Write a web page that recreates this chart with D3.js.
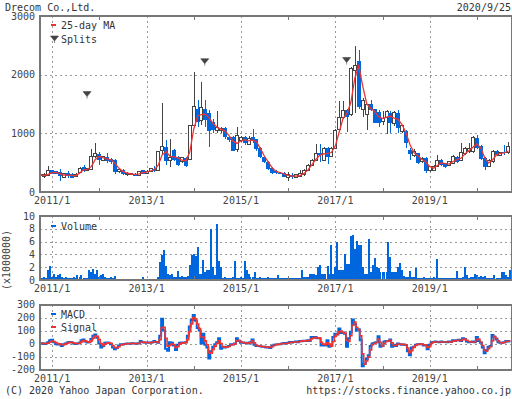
<!DOCTYPE html>
<html>
<head>
<meta charset="utf-8">
<script src="https://cdn.jsdelivr.net/npm/d3@7"></script>
<style>
  body { margin: 0; background: #fff; }
  svg { display: block; font-family: "DejaVu Sans Mono", monospace; font-size: 10px; }
</style>
</head>
<body>
<svg id="chart" width="512" height="399"></svg>
<script>
/* Monthly candles 2010/10 .. 2020/9, volume and MACD twice a month.
   Values are read off the reference picture. */

const title = 'Drecom Co.,Ltd.';
const asOf = '2020/9/25';
const footLeft = '(C) 2020 Yahoo Japan Corporation.';
const footRight = 'https://stocks.finance.yahoo.co.jp';

// one row per calendar year (2010 starts in October, 2020 ends in September)
const opens = [
  310, 265, 276,
  368, 350, 333, 253, 322, 310, 260, 333, 420, 368, 380, 598,
  650, 540, 598, 563, 552, 345, 380, 293, 300, 310, 282, 368,
  322, 356, 397, 368, 700, 772, 545, 716, 600, 517, 574, 557,
  1142, 1409, 1227, 1409, 1352, 1199, 1050, 1050, 1085, 943, 932, 720,
  870, 932, 810, 932, 898, 744, 602, 517, 403, 358, 330, 330,
  250, 290, 250, 261, 290, 364, 460, 534, 670, 545, 744, 602,
  744, 1068, 1272, 1397, 1329, 2079, 2232, 1400, 1329, 1500, 1409, 1369,
  1200, 1272, 1352, 1170, 1340, 1028, 1045, 716, 630, 659, 517, 585,
  363, 375, 443, 545, 488, 460, 488, 590, 534, 648, 687, 687,
  914, 784, 574, 432, 517, 704, 630, 690, 670
];
const highs = [
  320, 322, 443,
  380, 360, 397, 320, 356, 320, 320, 420, 460, 410, 725, 840,
  680, 620, 667, 580, 560, 390, 390, 340, 330, 320, 360, 380,
  370, 410, 437, 700, 1510, 890, 900, 740, 620, 600, 590, 1150,
  2050, 1570, 1880, 1570, 1400, 1250, 1380, 1110, 1100, 960, 960, 1110,
  960, 950, 950, 1073, 910, 760, 620, 530, 420, 370, 345, 340,
  346, 318, 300, 375, 400, 480, 560, 818, 818, 760, 761, 760,
  1070, 1550, 1550, 1420, 2130, 2488, 2420, 1600, 1500, 1560, 1420, 1400,
  1380, 1400, 1380, 1380, 1400, 1150, 1060, 744, 727, 670, 590, 600,
  440, 460, 630, 560, 500, 530, 630, 610, 830, 760, 840, 950,
  971, 800, 590, 560, 716, 720, 690, 800, 858
];
const lows = [
  260, 247, 270,
  300, 300, 195, 240, 236, 235, 250, 320, 340, 350, 370, 580,
  466, 530, 500, 480, 310, 330, 290, 265, 290, 270, 275, 300,
  310, 340, 340, 360, 640, 460, 430, 530, 440, 500, 430, 540,
  1100, 1110, 1150, 1110, 772, 1000, 1000, 1000, 900, 860, 700, 680,
  850, 800, 800, 840, 700, 580, 500, 380, 300, 300, 300, 250,
  180, 230, 240, 250, 280, 350, 440, 520, 517, 530, 477, 590,
  730, 1050, 1250, 1028, 1300, 1340, 1420, 1284, 1056, 1380, 1170, 1100,
  1150, 983, 1000, 1130, 1000, 1000, 744, 545, 600, 480, 500, 330,
  340, 360, 430, 450, 410, 440, 480, 500, 520, 630, 670, 670,
  730, 540, 375, 420, 500, 610, 620, 630, 650
];
const closes = [
  265, 293, 368,
  310, 310, 265, 310, 265, 241, 290, 408, 350, 397, 598, 650,
  540, 598, 523, 506, 333, 380, 300, 322, 310, 276, 350, 310,
  356, 397, 362, 696, 770, 520, 580, 545, 460, 590, 445, 1142,
  1454, 1199, 1443, 1227, 1045, 1056, 1100, 1090, 932, 886, 704, 955,
  930, 830, 920, 870, 727, 590, 517, 392, 318, 318, 320, 261,
  290, 250, 290, 318, 375, 460, 545, 659, 630, 744, 602, 744,
  1056, 1272, 1397, 1284, 2107, 2164, 1454, 1568, 1483, 1397, 1181, 1181,
  1255, 1369, 1170, 1352, 1090, 1142, 829, 648, 687, 488, 574, 363,
  432, 443, 545, 460, 432, 517, 613, 517, 670, 744, 744, 931,
  744, 557, 432, 545, 687, 630, 670, 670, 773
];
const ma25 = [
  290, 283, 300,
  330, 335, 315, 290, 288, 285, 275, 322, 378, 384, 436, 556,
  610, 582, 565, 548, 489, 403, 352, 324, 307, 299, 305, 328,
  339, 358, 379, 456, 634, 690, 605, 597, 580, 542, 532, 680,
  1074, 1301, 1320, 1327, 1258, 1163, 1102, 1073, 1039, 962, 867, 828,
  869, 891, 873, 883, 857, 740, 614, 508, 408, 349, 332, 311,
  283, 270, 270, 280, 312, 373, 458, 550, 624, 648, 659, 673,
  787, 1035, 1253, 1338, 1530, 1950, 2150, 1800, 1500, 1428, 1372, 1285,
  1252, 1275, 1291, 1261, 1238, 1150, 1011, 810, 671, 617, 560, 510,
  436, 404, 452, 499, 482, 475, 520, 553, 578, 649, 706, 763,
  819, 750, 587, 496, 546, 635, 659, 665, 701
];

// x1000000 shares, 1st and 16th of each month
const volume = [
  0.3, 0.3, 0.5, 0.3, 1.6, 2.2,
  0.5, 1.0, 0.4, 0.8, 0.9, 0.4, 0.3, 0.4, 0.3, 0.3, 0.3, 0.4, 0.3, 0.8, 0.5, 0.8, 0.3, 0.3, 0.3, 1.5, 1.3, 1.7, 1.0, 1.6,
  0.5, 0.8, 1.0, 0.4, 0.35, 0.3, 0.4, 0.3, 0.6, 0.15, 0.2, 0.15, 0.15, 0.2, 0.15, 0.15, 0.15, 0.2, 0.15, 0.15, 0.15, 0.2, 0.5, 0.15,
  0.15, 0.15, 0.2, 0.15, 0.15, 0.2, 0.4, 2.8, 3.9, 4.7, 2.2, 1.0, 0.8, 0.9, 0.5, 0.5, 1.4, 0.5, 0.6, 0.5, 0.5, 0.6, 2.4, 3.9,
  4.0, 3.8, 5.2, 1.0, 1.0, 3.1, 1.3, 1.5, 1.5, 8.0, 2.1, 0.8, 8.7, 3.0, 2.1, 0.35, 0.4, 0.3, 0.35, 0.3, 0.4, 3.0, 0.35, 0.3,
  0.4, 0.3, 3.0, 1.5, 1.0, 0.4, 0.4, 1.3, 0.35, 0.3, 0.4, 0.35, 0.3, 0.35, 0.4, 0.3, 0.35, 0.3, 0.35, 0.8, 0.3, 0.26, 0.3, 0.26,
  0.26, 0.3, 0.26, 0.3, 0.26, 0.3, 0.26, 1.6, 0.5, 0.5, 0.5, 1.0, 1.0, 1.0, 0.8, 2.1, 2.4, 1.0, 1.0, 0.9, 2.2, 0.9, 5.5, 0.9,
  2.0, 6.0, 1.5, 1.5, 1.6, 4.0, 2.5, 2.5, 6.9, 7.1, 4.9, 6.1, 5.5, 5.5, 2.1, 1.0, 1.0, 6.4, 1.2, 2.3, 3.4, 2.1, 1.8, 1.3,
  1.3, 1.2, 1.3, 6.0, 3.6, 1.3, 1.3, 1.2, 2.1, 2.6, 1.5, 0.6, 0.5, 0.5, 1.4, 0.5, 0.5, 1.8, 0.35, 0.3, 0.35, 0.4, 0.3, 0.35,
  0.3, 0.35, 0.4, 0.3, 3.3, 0.26, 0.3, 0.26, 0.3, 0.26, 0.3, 0.26, 0.3, 0.3, 1.4, 0.35, 0.35, 0.4, 2.1, 0.8, 0.35, 0.4, 0.4, 0.9,
  0.8, 0.4, 0.7, 0.4, 0.7, 0.3, 0.3, 0.3, 0.3, 0.8, 0.3, 0.3, 0.3, 1.2, 1.2, 0.8, 0.4, 1.6
];
const macd = [
  0, 2, -3, 0, 10, 25,
  28, 10, -5, -8, -5, -20, -5, 0, 8, 12, 10, 0, -3, 0, 5, 25, 30, 15, 8, 10, 35, 60, 70, 45,
  0, -30, -20, 5, 8, 5, -5, -30, -45, -35, -15, -5, -8, -3, 0, -2, 0, 2, 0, -2, 2, 20, 10, 8,
  5, 8, 6, 10, 20, 12, 5, 60, 190, 100, -40, -55, 10, 5, -15, -50, -10, 5, 8, 5, 10, 60, 130, 180,
  220, 175, 120, 100, 0, 75, -10, -30, -115, -60, -25, -5, 10, 40, -40, -25, -30, -25, -20, -5, -8, 0, 40, 20,
  5, 8, 3, 5, 0, 10, 30, -10, -20, -20, -22, -25, -25, -30, -28, -35, -20, -10, -8, -5, -5, 0, 3, 0,
  5, 12, 8, 12, 15, 10, 20, 18, 22, 20, 25, 20, 50, 45, 50, 40, 40, -15, -10, -15, 25, -25, -20, 50,
  75, 70, 115, 80, 85, 75, -25, 40, 90, 185, 150, 100, 110, 25, -175, -155, -120, -90, -20, 0, 5, 10, 55, -25,
  -20, 15, 20, 20, 30, -25, -10, -20, 0, -5, -10, -8, -12, -60, -90, -30, -25, -10, -5, -3, -5, -15, -12, -45,
  -10, 10, 12, 15, 12, 10, 15, 12, 12, 10, 15, 12, 25, 20, 25, 28, 20, 40, 35, 15, 10, 12, 15, 10,
  50, 20, 5, -30, -75, -50, -25, -20, 65, 50, 30, 10, 5, 5, 10, 20, 15, 20
];
const signal = [
  0, 1, 0, 0, 3, 10,
  18, 15, 8, 0, -3, -10, -10, -5, 2, 8, 10, 5, 0, 0, 2, 12, 22, 20, 14, 10, 20, 40, 58, 55,
  30, 0, -15, -5, 3, 5, 2, -15, -30, -35, -25, -12, -8, -5, -2, -1, 0, 1, 0, -1, 0, 10, 12, 9,
  7, 7, 7, 8, 14, 14, 9, 30, 120, 125, 40, -20, -15, -5, -8, -30, -25, -5, 3, 5, 7, 30, 90, 150,
  200, 190, 150, 115, 50, 50, 20, -10, -70, -75, -45, -20, 0, 20, 0, -25, -28, -27, -23, -12, -8, -3, 20, 25,
  12, 8, 5, 5, 2, 5, 20, 5, -12, -18, -20, -23, -24, -27, -28, -30, -25, -15, -10, -7, -5, -2, 0, 0,
  2, 8, 9, 10, 12, 11, 15, 17, 20, 20, 22, 22, 35, 42, 46, 43, 41, 10, -5, -10, 5, -5, -20, 15,
  55, 70, 90, 95, 85, 80, 25, 15, 60, 140, 165, 125, 105, 60, -80, -160, -135, -105, -50, -10, 2, 8, 35, 10,
  -20, 0, 15, 20, 25, 5, -15, -15, -5, -4, -7, -8, -10, -35, -70, -55, -30, -15, -8, -5, -5, -10, -12, -30,
  -25, 0, 10, 12, 12, 11, 12, 12, 12, 11, 12, 12, 18, 22, 23, 25, 23, 30, 35, 25, 15, 12, 12, 12,
  30, 35, 12, -15, -50, -60, -40, -25, 20, 55, 40, 20, 8, 5, 8, 15, 17, 18
];

const splitDates = ['2011-09-28', '2014-03-27', '2017-03-29'];
const splitLevels = [1660, 2220, 2240];

const yearLabels = ['2011/1', '2013/1', '2015/1', '2017/1', '2019/1'];
const priceTicks = [0, 1000, 2000, 3000];
const volumeTicks = [0, 2, 4, 6, 8, 10];
const macdTicks = [-200, -100, 0, 100, 200, 300];

const BLUE = '#0066dd', RED = '#ee3333', DARK = '#444', FRAME = '#777', GRID = '#999', TEXT = '#333';

const svg = d3.select('#chart');
const parse = d3.timeParse('%Y-%m-%d');
const monthDate = i => new Date(2010, 9 + i, 1);
const halfDate = j => new Date(2010, 9 + Math.floor(j / 2), j % 2 ? 16 : 1);

const x = d3.scaleTime()
  .domain([new Date(2010, 8, 25), new Date(2020, 8, 25)])
  .range([39.5, 511.5]);
const gridDates = yearLabels.map(s => d3.timeParse('%Y/%m')(s));
const minorDates = [2012, 2014, 2016, 2018, 2020].map(yr => new Date(yr, 0, 1));

const yPrice = d3.scaleLinear().domain([0, 3000]).range([192, 16]);
const yVol = d3.scaleLinear().domain([0, 10]).range([280, 216]);
const yMacd = d3.scaleLinear().domain([-200, 300]).range([369.5, 304.5]);

const px = v => Math.round(v) + 0.5;

// draw background parts of a panel, return a clipped group for the data
function makePanel(id, y, ticks) {
  const [bottom, top] = y.range();
  const [x0, x1] = x.range();
  svg.append('clipPath').attr('id', id)
    .append('rect').attr('x', x0).attr('y', top).attr('width', x1 - x0).attr('height', bottom - top);

  const bg = svg.append('g').attr('shape-rendering', 'crispEdges');
  bg.selectAll('.hgrid').data(ticks.slice(1, -1)).join('line')
    .attr('x1', x0).attr('x2', x1)
    .attr('y1', d => px(y(d))).attr('y2', d => px(y(d)))
    .attr('stroke', GRID).attr('stroke-dasharray', '2,3');
  bg.selectAll('.vgrid').data(gridDates).join('line')
    .attr('x1', d => px(x(d))).attr('x2', d => px(x(d)))
    .attr('y1', top).attr('y2', bottom)
    .attr('stroke', GRID).attr('stroke-dasharray', '2,3');

  svg.append('g').selectAll('text').data(ticks).join('text')
    .attr('x', 35).attr('y', d => y(d)).attr('dy', '0.35em')
    .attr('text-anchor', 'end').attr('fill', DARK)
    .text(d => d);
  svg.append('g').selectAll('text').data(gridDates).join('text')
    .attr('x', d => x(d)).attr('y', bottom + 12)
    .attr('text-anchor', 'middle').attr('fill', DARK)
    .text((d, i) => yearLabels[i]);

  return svg.append('g').attr('clip-path', `url(#${id})`);
}

function frame(y) {
  const [bottom, top] = y.range();
  const [x0, x1] = x.range();
  const g = svg.append('g').attr('shape-rendering', 'crispEdges');
  g.selectAll('.minor').data(minorDates).join('path')
    .attr('d', d => `M${px(x(d))},${top}v4M${px(x(d))},${bottom}v-4`)
    .attr('stroke', FRAME);
  g.append('rect')
    .attr('x', x0).attr('y', top).attr('width', x1 - x0).attr('height', bottom - top)
    .attr('fill', 'none').attr('stroke', FRAME).attr('stroke-width', 2);
}

function legendLine(xp, yp, color, label) {
  svg.append('line').attr('x1', 51).attr('x2', 56).attr('y1', yp).attr('y2', yp)
    .attr('stroke', color).attr('stroke-width', 2);
  svg.append('text').attr('x', xp).attr('y', yp).attr('dy', '0.35em').attr('fill', TEXT).text(label);
}

const splitMark = 'M-4,-3H4L0,2ZM0,2V4';

// ---- price panel ----
const pricePlot = makePanel('clip-price', yPrice, priceTicks);
const candles = opens.map((o, i) => ({ date: monthDate(i), o, h: highs[i], l: lows[i], c: closes[i] }));

const candleG = pricePlot.append('g').attr('shape-rendering', 'crispEdges');
candleG.selectAll('line').data(candles).join('line')
  .attr('x1', d => px(x(d.date))).attr('x2', d => px(x(d.date)))
  .attr('y1', d => yPrice(d.h)).attr('y2', d => yPrice(d.l))
  .attr('stroke', d => d.c >= d.o ? DARK : BLUE);
candleG.selectAll('rect').data(candles).join('rect')
  .attr('x', d => Math.round(x(d.date)) - (d.c >= d.o ? 1.5 : 2))
  .attr('width', d => d.c >= d.o ? 3 : 4)
  .attr('y', d => yPrice(Math.max(d.o, d.c)))
  .attr('height', d => Math.max(1, yPrice(Math.min(d.o, d.c)) - yPrice(Math.max(d.o, d.c))))
  .attr('fill', d => d.c >= d.o ? '#fff' : BLUE)
  .attr('stroke', d => d.c >= d.o ? DARK : 'none');

pricePlot.append('path')
  .datum(ma25)
  .attr('d', d3.line().x((d, i) => x(monthDate(i))).y(d => yPrice(d)))
  .attr('fill', 'none').attr('stroke', RED).attr('stroke-width', 1.3);

pricePlot.selectAll('.split').data(splitDates).join('path')
  .attr('transform', (d, i) => `translate(${x(parse(d))},${yPrice(splitLevels[i])})`)
  .attr('d', splitMark).attr('fill', DARK).attr('stroke', DARK).attr('stroke-width', 0.6);

frame(yPrice);
legendLine(61, 25, RED, '25-day MA');
svg.append('path').attr('transform', 'translate(54.5,39)').attr('d', splitMark)
  .attr('fill', DARK).attr('stroke', DARK).attr('stroke-width', 0.6);
svg.append('text').attr('x', 61).attr('y', 39).attr('dy', '0.35em').attr('fill', TEXT).text('Splits');

// ---- volume panel ----
const volPlot = makePanel('clip-vol', yVol, volumeTicks);
volPlot.append('g').attr('shape-rendering', 'crispEdges')
  .selectAll('rect').data(volume).join('rect')
  .attr('x', (d, j) => Math.round(x(halfDate(j))) - 1)
  .attr('width', 2)
  .attr('y', d => yVol(d))
  .attr('height', d => yVol(0) - yVol(d))
  .attr('fill', BLUE);
frame(yVol);
legendLine(61, 226, BLUE, 'Volume');
svg.append('text')
  .attr('transform', 'translate(9.5,260) rotate(-90)')
  .attr('text-anchor', 'middle').attr('fill', DARK)
  .text('(x1000000)');

// ---- MACD panel ----
const macdPlot = makePanel('clip-macd', yMacd, macdTicks);
const stepLine = d3.line().curve(d3.curveStep).x((d, j) => x(halfDate(j))).y(d => yMacd(d));
macdPlot.append('path').datum(macd).attr('d', stepLine)
  .attr('fill', 'none').attr('stroke', BLUE).attr('stroke-width', 2);
macdPlot.append('path').datum(signal).attr('d', stepLine)
  .attr('fill', 'none').attr('stroke', RED).attr('stroke-width', 1.6);
frame(yMacd);
legendLine(61, 314, BLUE, 'MACD');
legendLine(61, 327, RED, 'Signal');

// ---- titles ----
svg.append('text').attr('x', 5).attr('y', 10.5).attr('fill', TEXT).text(title);
svg.append('text').attr('x', 511).attr('y', 10.5).attr('text-anchor', 'end').attr('fill', TEXT).text(asOf);
svg.append('text').attr('x', 5).attr('y', 394).attr('fill', TEXT).text(footLeft);
svg.append('text').attr('x', 511).attr('y', 394).attr('text-anchor', 'end').attr('fill', TEXT).text(footRight);
</script>
</body>
</html>
